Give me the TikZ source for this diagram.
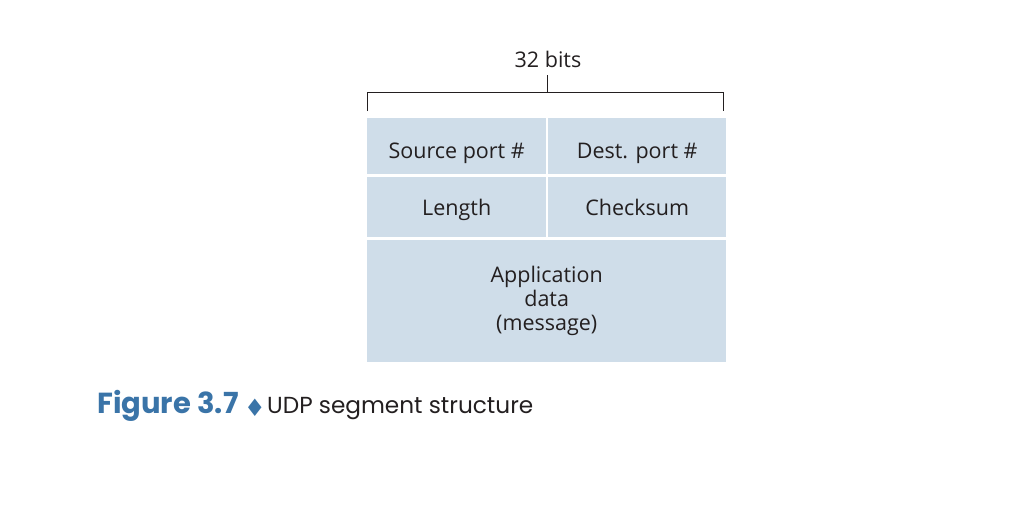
\documentclass[tikz,border=0pt]{standalone}
\usepackage{fontspec}
\setmainfont{Open Sans}
\newfontfamily\capfont{Poppins}
\newfontfamily\symfont{DejaVu Sans}
\definecolor{cellfill}{HTML}{CFDDE9}
\definecolor{capblue}{HTML}{3A74A8}
\definecolor{txt}{HTML}{231F20}
\begin{document}
\begin{tikzpicture}[x=1pt,y=-1pt,
  cell/.style={fill=cellfill,draw=none,inner sep=0pt,text=txt,font=\fontsize{21.5}{24}\selectfont,align=center,anchor=north west},
  lbl/.style={inner sep=0pt,text=txt,font=\fontsize{21.5}{24}\selectfont},
  brk/.style={draw=txt,line width=0.8pt}]
\useasboundingbox (0,0) rectangle (1036,527);
\node[cell,minimum width=179pt,minimum height=56pt,text height=24pt,text depth=0pt] (src) at (367,118) {Source port \#};
\node[cell,minimum width=178pt,minimum height=56pt,text height=24pt,text depth=0pt] (dst) at (548,118) {Dest. port \#};
\node[cell,minimum width=179pt,minimum height=60pt,text height=16pt,text depth=0pt] (len) at (367,177) {Length};
\node[cell,minimum width=178pt,minimum height=60pt,text height=16pt,text depth=0pt] (chk) at (548,177) {Checksum};
\node[cell,minimum width=359pt,minimum height=122pt] (app) at (367,240) {Application\\data\\(message)};
\coordinate (bl) at (367.5,111);
\coordinate (br) at (723,111);
\coordinate (bml) at (367.5,92);
\coordinate (bmr) at (723,92);
\coordinate (bm) at (547,92);
\node[lbl,anchor=base] (bits) at (548,67) {32 bits};
\coordinate (bt) at (547,75);
\draw[brk] (bl) -- (bml) -- (bmr) -- (br);
\draw[brk] (bm) -- (bt);
\node[anchor=base west,inner sep=0pt,text=capblue,font=\capfont\bfseries\fontsize{29}{32}\selectfont] (fig) at (97,413) {Figure 3.7};
\node[inner sep=0pt,text=capblue,font=\symfont\fontsize{24}{27}\selectfont] (dia) at (255,408) {♦};
\node[anchor=base west,inner sep=0pt,text=txt,font=\capfont\fontsize{23.2}{26}\selectfont] (capt) at (267,413) {UDP segment structure};
\end{tikzpicture}
\end{document}
